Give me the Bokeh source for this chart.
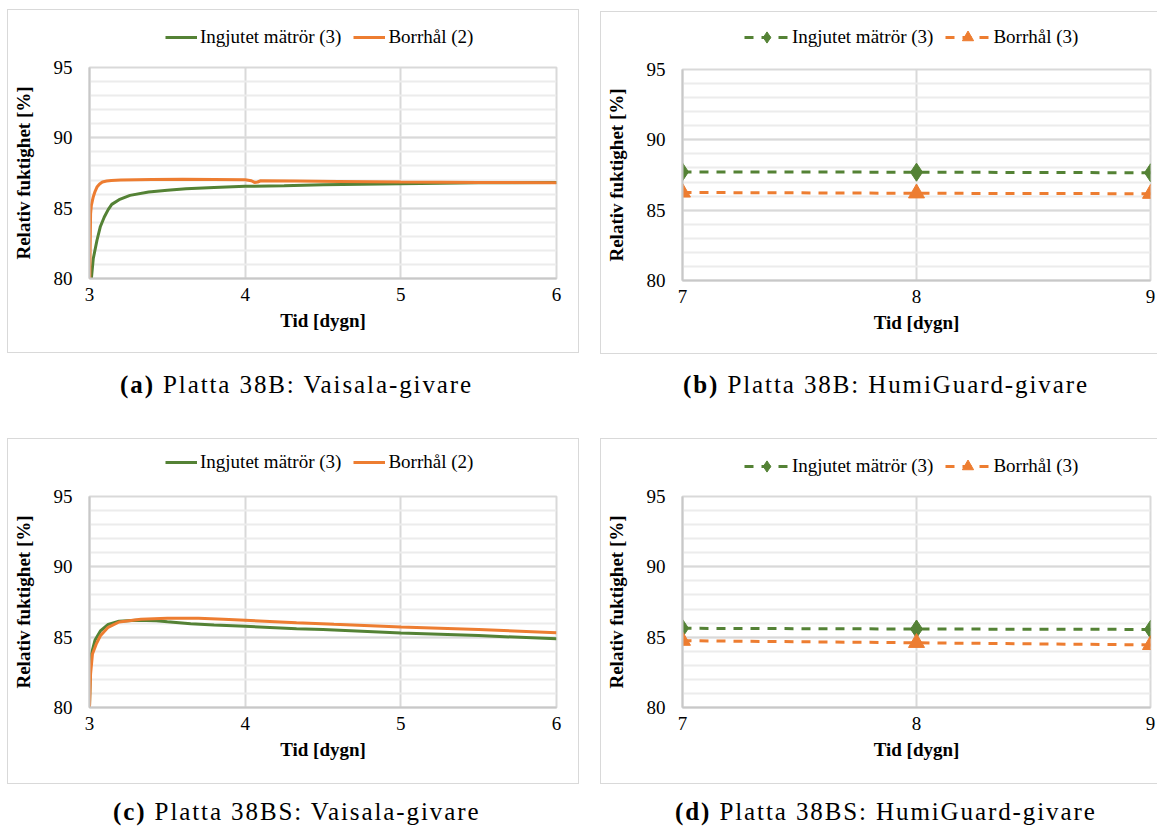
from bokeh.plotting import figure
from bokeh.models import (Legend, LegendItem, SingleIntervalTicker, Div)
from bokeh.layouts import column, row
from bokeh.embed import file_html
from bokeh.resources import INLINE

# ---------------- data ----------------
# (a) Platta 38B: Vaisala-givare
a_t_green = [3.0, 3.012, 3.024, 3.048, 3.07, 3.095, 3.12, 3.143, 3.19, 3.26, 3.38,
             3.5, 3.62, 3.8, 4.0, 4.25, 4.5, 4.75, 5.0, 5.5, 6.0]
a_rh_green = [78.0, 80.0, 81.4, 82.72, 83.7, 84.37, 84.9, 85.27, 85.6, 85.91, 86.15,
              86.28, 86.38, 86.47, 86.55, 86.6, 86.66, 86.7, 86.74, 86.8, 86.83]
a_t_orange = [3.0, 3.004, 3.007, 3.012, 3.024, 3.036, 3.048, 3.065, 3.083, 3.11, 3.14,
              3.2, 3.4, 3.6, 3.8, 4.0, 4.04, 4.06, 4.08, 4.1, 4.33, 4.6, 5.0, 5.5, 6.0]
a_rh_orange = [78.0, 82.0, 84.6, 85.2, 85.8, 86.2, 86.5, 86.72, 86.86, 86.93, 86.97,
               87.0, 87.04, 87.05, 87.04, 87.02, 86.95, 86.83, 86.86, 86.95, 86.93,
               86.9, 86.86, 86.83, 86.81]

# (b) Platta 38B: HumiGuard-givare
b_days = [7, 8, 9]
b_rh_green = [87.72, 87.7, 87.66]
b_rh_orange = [86.26, 86.2, 86.17]

# (c) Platta 38BS: Vaisala-givare
c_t_green = [3.0, 3.005, 3.012, 3.036, 3.07, 3.12, 3.19, 3.3, 3.43, 3.5, 3.65, 3.8,
             4.0, 4.33, 4.5, 5.0, 5.5, 6.0]
c_rh_green = [80.0, 82.9, 83.8, 84.8, 85.44, 85.91, 86.13, 86.2, 86.17, 86.1, 85.96,
              85.87, 85.77, 85.6, 85.54, 85.3, 85.11, 84.88]
c_t_orange = [3.0, 3.007, 3.019, 3.043, 3.07, 3.12, 3.19, 3.33, 3.5, 3.7, 3.86, 4.0,
              4.33, 4.57, 5.0, 5.5, 6.0]
c_rh_orange = [80.0, 82.4, 83.8, 84.5, 85.1, 85.7, 86.08, 86.27, 86.34, 86.34, 86.27,
               86.2, 86.03, 85.91, 85.72, 85.54, 85.32]

# (d) Platta 38BS: HumiGuard-givare
d_days = [7, 8, 9]
d_rh_green = [85.63, 85.58, 85.55]
d_rh_orange = [84.75, 84.6, 84.45]

lbl_green = "Ingjutet mätrör (3)"
lbl_orange_a = "Borrhål (2)"
lbl_orange_b = "Borrhål (3)"
captions = ["Platta 38B: Vaisala-givare", "Platta 38B: HumiGuard-givare",
            "Platta 38BS: Vaisala-givare", "Platta 38BS: HumiGuard-givare"]
cap_tags = ["(a)", "(b)", "(c)", "(d)"]
y_label = "Relativ fuktighet [%]"
x_label = "Tid [dygn]"

GREEN = "#548235"
ORANGE = "#ED7D31"
SERIF = "Liberation Serif"
FRAME_H = 211
LEFT_B = 81
LEG_H = 47
BOX = "1px solid #d9d9d9"


def base_fig(width, height, xr, right_border):
    p = figure(width=width, height=height, x_range=xr, y_range=(80, 95),
               output_backend="svg", toolbar_location=None,
               min_border_left=LEFT_B, min_border_right=right_border,
               min_border_top=10, min_border_bottom=height - 10 - FRAME_H,
               background_fill_color="white", border_fill_color="white",
               outline_line_color="#d9d9d9", outline_line_width=2,
               margin=(0, 0, 0, 0))
    p.xaxis.ticker = SingleIntervalTicker(interval=1, num_minor_ticks=0)
    p.yaxis.ticker = SingleIntervalTicker(interval=5, num_minor_ticks=5)
    for ax in (p.xaxis[0], p.yaxis[0]):
        ax.axis_line_color = "#c8c8c8"
        ax.axis_line_width = 2
        ax.major_tick_line_color = None
        ax.minor_tick_line_color = None
        ax.major_tick_out = 0
        ax.major_tick_in = 0
        ax.major_label_text_font = SERIF
        ax.major_label_text_font_size = "19px"
        ax.major_label_text_color = "black"
        ax.axis_label_text_font = SERIF
        ax.axis_label_text_font_style = "bold"
        ax.axis_label_text_font_size = "19px"
        ax.axis_label_text_color = "black"
    p.xaxis.axis_label = x_label
    p.yaxis.axis_label = y_label
    p.xaxis.major_label_standoff = 9
    p.xaxis.axis_label_standoff = 6
    p.yaxis.major_label_standoff = 13
    p.yaxis.axis_label_standoff = 17
    p.xgrid.grid_line_color = "#d9d9d9"
    p.xgrid.grid_line_width = 2
    p.ygrid.grid_line_color = "#d9d9d9"
    p.ygrid.grid_line_width = 2
    p.ygrid.minor_grid_line_color = "#ececec"
    p.ygrid.minor_grid_line_width = 2
    return p


def legend_fig(width, entries, glyph_width, x_off, y_off):
    """A strip above the chart that only carries the legend.
    Its ranges lie outside the data, so only the legend keys are seen."""
    q = figure(width=width, height=LEG_H, x_range=(0, 1), y_range=(0, 1),
               output_backend="svg", toolbar_location=None,
               x_axis_location=None, y_axis_location=None,
               min_border=0, outline_line_color=None, margin=(0, 0, 0, 0),
               background_fill_color="white", border_fill_color="white")
    q.grid.visible = False
    items = []
    for label, xs, ys, color, marker, msize in entries:
        rs = [q.line(xs, ys, line_color=color, line_width=3,
                     line_dash="9 8" if marker else "solid")]
        if marker:
            rs.append(q.scatter(xs, ys, marker=marker, size=msize,
                                fill_color=color, line_color=color))
        items.append(LegendItem(label=label, renderers=rs))
    leg = Legend(items=items, orientation="horizontal", location=(x_off, y_off),
                 glyph_width=glyph_width, glyph_height=28, label_height=20,
                 label_standoff=3, spacing=12, padding=0, margin=0,
                 border_line_color=None, background_fill_alpha=0,
                 label_text_font=SERIF, label_text_font_size="19px",
                 label_text_color="black")
    q.add_layout(leg, "center")
    return q


def vaisala(t_g, rh_g, t_o, rh_o, orange_label, height, leg_y):
    p = base_fig(570, height - LEG_H, (3, 6), 22)
    p.line(t_g, rh_g, line_color=GREEN, line_width=3)
    p.line(t_o, rh_o, line_color=ORANGE, line_width=3)
    q = legend_fig(570, [(lbl_green, t_g, rh_g, GREEN, None, 0),
                         (orange_label, t_o, rh_o, ORANGE, None, 0)],
                   32, 76, leg_y)
    return column(q, p, styles={"outline": BOX})


def humiguard(days, rh_g, rh_o, height, leg_y):
    p = base_fig(556, height - LEG_H, (7, 9), 7)
    p.line(days, rh_g, line_color=GREEN, line_width=3, line_dash="9 8")
    p.scatter(days, rh_g, marker="diamond", size=18, fill_color=GREEN,
              line_color=GREEN)
    p.line(days, rh_o, line_color=ORANGE, line_width=3, line_dash="9 8")
    p.scatter(days, rh_o, marker="triangle", size=16, fill_color=ORANGE,
              line_color=ORANGE)
    q = legend_fig(556, [(lbl_green, days, rh_g, GREEN, "diamond", 16),
                         (lbl_orange_b, days, rh_o, ORANGE, "triangle", 16)],
                   45, 62, leg_y)
    return column(q, p, styles={"outline": BOX})


fa = vaisala(a_t_green, a_rh_green, a_t_orange, a_rh_orange, lbl_orange_a, 342, 6)
fb = humiguard(b_days, b_rh_green, b_rh_orange, 341, 8)
fc = vaisala(c_t_green, c_rh_green, c_t_orange, c_rh_orange, lbl_orange_a, 344, 10)
fd = humiguard(d_days, d_rh_green, d_rh_orange, 344, 6)

fa.margin = (10, 0, 0, 8)
fb.margin = (12, 0, 0, 23)
fc.margin = (0, 0, 0, 8)
fd.margin = (0, 0, 0, 23)


def caption(i, width, height, pad_top, pad_left):
    html = ('<div style="font-family: \'Liberation Serif\'; font-size: 25px; '
            'line-height: 26px; letter-spacing: 1.9px; text-align: left; '
            f'color: black; white-space: nowrap; padding-top: {pad_top}px; '
            f'padding-left: {pad_left}px;">'
            f'<b>{cap_tags[i]}</b> {captions[i]}</div>')
    return Div(text=html, width=width, height=height, margin=(0, 0, 0, 0))


da = caption(0, 587, 86, 19, 120)
db = caption(1, 570, 86, 19, 96)
dc = caption(2, 587, 44, 16, 113)
dd = caption(3, 570, 44, 16, 88)

layout = column(row(fa, fb), row(da, db), row(fc, fd), row(dc, dd),
                margin=(0, 0, 0, 0))

open("out.html", "w").write(file_html(layout, INLINE))
